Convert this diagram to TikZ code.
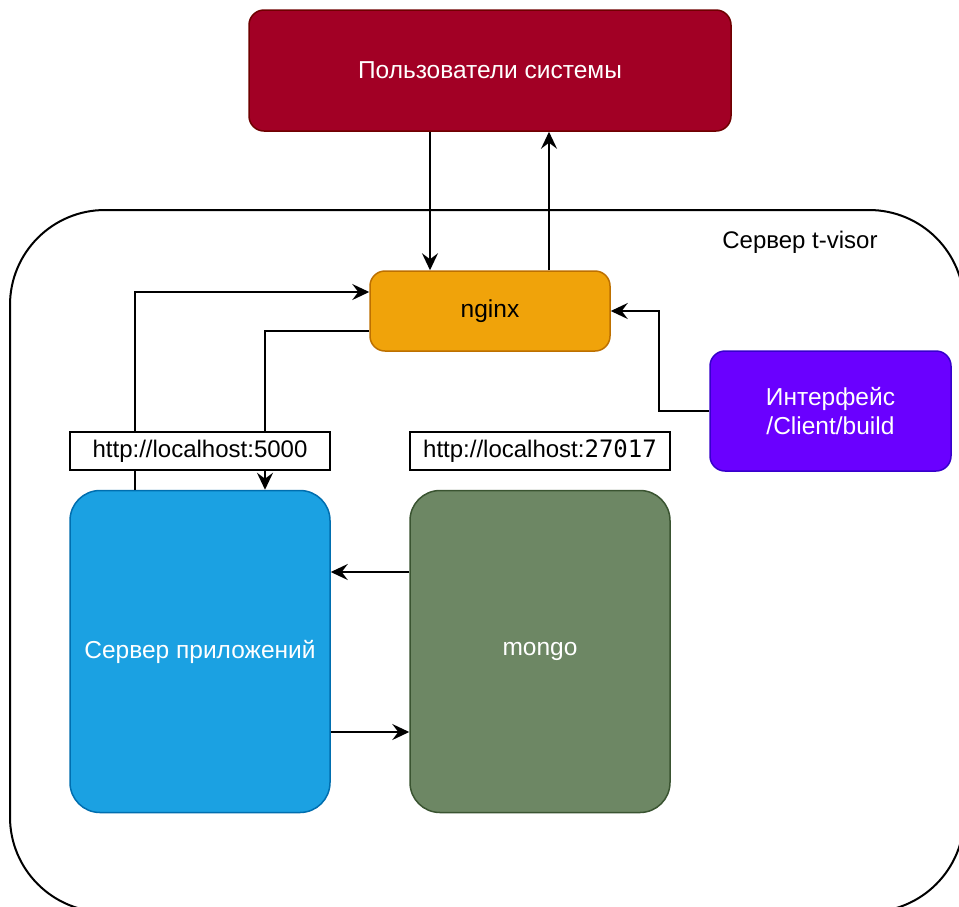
\documentclass[tikz,border=0pt]{standalone}
\usepackage{fontspec}
\setmainfont{Liberation Sans}
\newfontfamily\monofnt{DejaVu Sans Mono}
\usetikzlibrary{arrows.meta}
\definecolor{usersfill}{HTML}{A20025}
\definecolor{usersdraw}{HTML}{6F0000}
\definecolor{nginxfill}{HTML}{F0A30A}
\definecolor{nginxdraw}{HTML}{BD7000}
\definecolor{ifacefill}{HTML}{6A00FF}
\definecolor{ifacedraw}{HTML}{3700CC}
\definecolor{appfill}{HTML}{1BA1E2}
\definecolor{appdraw}{HTML}{006EAF}
\definecolor{mongofill}{HTML}{6D8764}
\definecolor{mongodraw}{HTML}{3A5431}
\tikzset{
  boxbase/.style={rectangle, line width=1.5pt, inner sep=0pt, align=center, font=\fontsize{24.5}{29}\selectfont},
  smallbox/.style={boxbase, rounded corners=15pt},
  bigbox/.style={boxbase, rounded corners=30pt},
  lblbox/.style={rectangle, draw=black, fill=white, line width=1.5pt, inner sep=0pt, minimum width=260pt, minimum height=38pt, font=\fontsize{24}{28}\selectfont},
  arr/.style={draw=black, line width=2pt, -{Stealth[length=17pt, width=16pt, inset=6pt]}},
}
\begin{document}
\begin{tikzpicture}[x=1pt, y=-1pt]
\useasboundingbox (0,0) rectangle (959,906);
\clip (0,0) rectangle (959,906);
\fill[white] (0,0) rectangle (959,906);
% outer server frame
\draw[line width=2pt, rounded corners=95pt] (10,210) rectangle (964,912);
\node[font=\fontsize{24}{28}\selectfont] (frametitle) at (800,242) {Сервер t-visor};

\node[smallbox, fill=usersfill, draw=usersdraw, text=white, minimum width=482pt, minimum height=121pt] (users) at (490,70.5) {Пользователи системы};
\node[smallbox, fill=nginxfill, draw=nginxdraw, text=black, minimum width=240pt, minimum height=80pt] (nginx) at (490,311) {nginx};
\node[smallbox, fill=ifacefill, draw=ifacedraw, text=white, minimum width=241pt, minimum height=120pt] (iface) at (830.5,411) {Интерфейс\\/Client/build};
\node[bigbox, fill=appfill, draw=appdraw, text=white, minimum width=260pt, minimum height=322pt] (app) at (200,651.5) {Сервер приложений};
\node[bigbox, fill=mongofill, draw=mongodraw, text=white, minimum width=260pt, minimum height=322pt] (mongo) at (540,651.5) {mongo};

% connectors
\draw[arr] ([xshift=-60pt]users.south) -- ([xshift=-60pt]nginx.north);
\draw[arr] ([xshift=59pt]nginx.north) -- ([xshift=59pt]users.south);
\draw[arr] ([xshift=-65pt]app.north) |- ([yshift=19pt]nginx.west);
\draw[arr] ([yshift=-20pt]nginx.west) -| ([xshift=65pt]app.north);
\draw[arr] (iface.west) -- ++(-50,0) |- (nginx.east);
\draw[arr] ([yshift=79.5pt]mongo.west) -- ([yshift=79.5pt]app.east);
\draw[arr] ([yshift=-80.5pt]app.east) -- ([yshift=-80.5pt]mongo.west);

% labels
\node[lblbox] (lbl5000) at (200,451) {http://localhost:5000};
\node[lblbox] (lbl27017) at (540,451) {http://localhost:{\monofnt 27017}};
\end{tikzpicture}
\end{document}
